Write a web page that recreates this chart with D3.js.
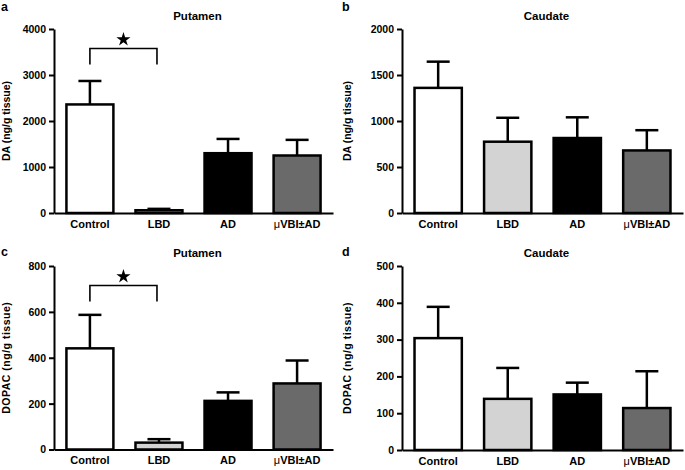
<!DOCTYPE html>
<html>
<head>
<meta charset="utf-8">
<script src="https://cdn.jsdelivr.net/npm/d3@7"></script>
<style>
  body { margin: 0; background: #fff; }
  svg text { font-family: "Liberation Sans", Arial, sans-serif; font-weight: bold; fill: #000; }
</style>
</head>
<body>
<svg width="685" height="470"></svg>
<script>
// data
const categories = ["Control", "LBD", "AD", "μVBI±AD"];
const barFills = ["#ffffff", "#d3d3d3", "#000000", "#6a6a6a"];

const daPutamen = [2360, 60, 1300, 1250];
const daPutamenTop = [2870, 90, 1610, 1590];
const daCaudate = [1360, 775, 815, 680];
const daCaudateTop = [1645, 1035, 1040, 900];
const dopacPutamen = [441, 30, 212, 288];
const dopacPutamenTop = [587, 45, 249, 388];
const dopacCaudate = [304, 139, 151, 114];
const dopacCaudateTop = [389, 223, 183, 214];

const daPutamenTicks = [0, 1000, 2000, 3000, 4000];
const daCaudateTicks = [0, 500, 1000, 1500, 2000];
const dopacPutamenTicks = [0, 200, 400, 600, 800];
const dopacCaudateTicks = [0, 100, 200, 300, 400, 500];

const svg = d3.select("svg");

// one panel = bars + error bars + axes
function drawPanel(p) {
  const g = svg.append("g");
  const x = d3.scaleBand(categories, [p.left, p.right])
    .paddingInner(0.32).paddingOuter(0.18);
  const y = d3.scaleLinear([0, d3.max(p.ticks)], [p.bottom, p.top]);
  const bw = x.bandwidth();

  // panel letter and title
  g.append("text").attr("x", p.letterX).attr("y", p.letterY)
    .style("font-size", "12.5px").text(p.letter);
  g.append("text").attr("x", (p.left + p.right) / 2 + 4).attr("y", p.top - 9)
    .attr("text-anchor", "middle").style("font-size", "11.5px").text(p.title);

  // y label
  g.append("text")
    .attr("transform", `translate(${p.letterX + 5},${(p.top + p.bottom) / 2}) rotate(-90)`)
    .attr("text-anchor", "middle")
    .attr("dy", "0.35em")
    .style("font-size", "10.5px")
    .style("letter-spacing", p.spacing)
    .text(p.ylabel);

  // error bars
  const eb = g.selectAll(".err").data(categories).enter().append("g");
  eb.append("line")
    .attr("x1", d => x(d) + bw / 2).attr("x2", d => x(d) + bw / 2)
    .attr("y1", (d, i) => y(p.values[i])).attr("y2", (d, i) => y(p.tops[i]))
    .attr("stroke", "#000").attr("stroke-width", 2.5);
  eb.append("line")
    .attr("x1", d => x(d) + bw / 2 - 11.5).attr("x2", d => x(d) + bw / 2 + 11.5)
    .attr("y1", (d, i) => y(p.tops[i])).attr("y2", (d, i) => y(p.tops[i]))
    .attr("stroke", "#000").attr("stroke-width", 2.5);

  // bars
  g.selectAll("rect").data(categories).enter().append("rect")
    .attr("x", d => x(d))
    .attr("y", (d, i) => y(p.values[i]))
    .attr("width", bw)
    .attr("height", (d, i) => y(0) - y(p.values[i]))
    .attr("fill", (d, i) => barFills[i])
    .attr("stroke", "#000")
    .attr("stroke-width", 2.5);

  // axes
  const yAxis = g.append("g")
    .attr("transform", `translate(${p.left},0)`)
    .call(d3.axisLeft(y).tickValues(p.ticks).tickFormat(d3.format("d"))
      .tickSize(5).tickSizeOuter(0).tickPadding(3));
  yAxis.selectAll("text").style("font-size", "10.5px");
  yAxis.selectAll("line, path").attr("stroke", "#000").attr("stroke-width", 2);

  const xAxis = g.append("g")
    .attr("transform", `translate(0,${p.bottom})`)
    .call(d3.axisBottom(x).tickSize(0).tickSizeOuter(0).tickPadding(7));
  xAxis.select(".domain").attr("stroke", "#000").attr("stroke-width", 2);
  xAxis.selectAll("text").style("font-size", "11px")
    .each(function(d) {
      if (d.startsWith("μ")) {
        const t = d3.select(this).text("");
        t.append("tspan").style("font-weight", "normal").text("μ");
        t.append("tspan").text(d.slice(1));
      }
    });

  // significance bracket
  if (p.bracket) {
    const x0 = x(categories[0]) + bw / 2, x1 = x(categories[1]) + bw / 2 - 2;
    const yTop = p.top + 19.5, yLeg = p.top + 35.5;
    g.append("path")
      .attr("d", `M${x0},${yLeg}V${yTop}H${x1}V${yLeg}`)
      .attr("fill", "none").attr("stroke", "#000").attr("stroke-width", 1.6);
    g.append("path")
      .attr("transform", `translate(${(x0 + x1) / 2},${p.top + 10.5})`)
      .attr("d", d3.symbol(d3.symbolStar, 62)());
  }
}

drawPanel({ letter: "a", title: "Putamen", ylabel: "DA (ng/g tissue)", spacing: "0px",
  values: daPutamen, tops: daPutamenTop, ticks: daPutamenTicks, bracket: true,
  left: 54, right: 333, top: 29, bottom: 213, letterX: 1, letterY: 11 });
drawPanel({ letter: "b", title: "Caudate", ylabel: "DA (ng/g tissue)", spacing: "0px",
  values: daCaudate, tops: daCaudateTop, ticks: daCaudateTicks, bracket: false,
  left: 402, right: 683, top: 29, bottom: 213, letterX: 342, letterY: 11 });
drawPanel({ letter: "c", title: "Putamen", ylabel: "DOPAC (ng/g tissue)", spacing: "0.5px",
  values: dopacPutamen, tops: dopacPutamenTop, ticks: dopacPutamenTicks, bracket: true,
  left: 54, right: 333, top: 266, bottom: 449.5, letterX: 1, letterY: 256 });
drawPanel({ letter: "d", title: "Caudate", ylabel: "DOPAC (ng/g tissue)", spacing: "0.5px",
  values: dopacCaudate, tops: dopacCaudateTop, ticks: dopacCaudateTicks, bracket: false,
  left: 402, right: 683, top: 266, bottom: 450, letterX: 342, letterY: 256 });
</script>
</body>
</html>
